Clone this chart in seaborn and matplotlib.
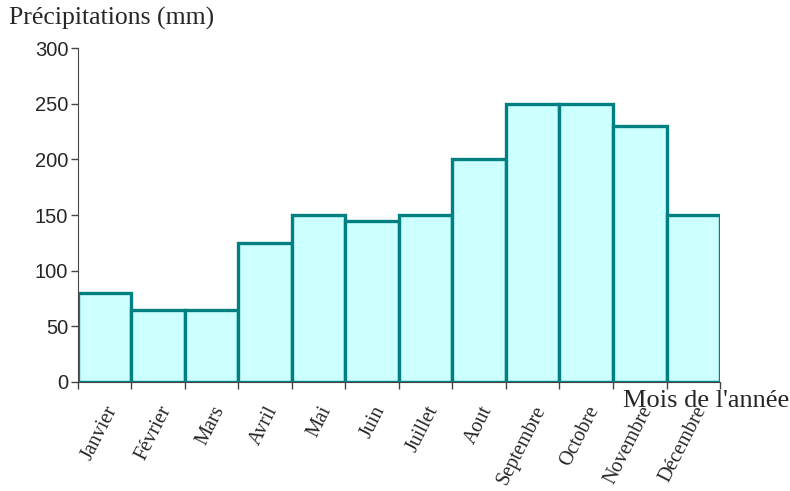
import matplotlib
matplotlib.use("Agg")
import matplotlib.pyplot as plt
import seaborn as sns
import pandas as pd
import numpy as np

# monthly rainfall
mois = ["Janvier", "Février", "Mars", "Avril", "Mai", "Juin", "Juillet",
        "Aout", "Septembre", "Octobre", "Novembre", "Décembre"]
precip = [80, 65, 65, 125, 150, 145, 150, 200, 250, 250, 230, 150]

df = pd.DataFrame({"Mois": mois, "Precipitations": precip})

sns.set_style("white")
plt.rcParams["font.family"] = ["Liberation Serif", "DejaVu Serif"]

fig = plt.figure(figsize=(7.9, 4.91), dpi=100)
ax = fig.add_axes([0.0987, 0.222, 0.8127, 0.68])

sns.barplot(data=df, x="Mois", y="Precipitations", ax=ax, width=1.0,
            color="#CCFFFF", edgecolor="#008080", linewidth=2.4,
            saturation=1)

ax.set_xlim(-0.5, len(mois) - 0.5)
ax.set_ylim(0, 300)
ax.set_yticks(np.arange(0, 301, 50))
for lab in ax.get_yticklabels():
    lab.set_family("Liberation Sans")
    lab.set_fontsize(14.5)
ax.tick_params(axis="y", length=5, width=1, color="#444444", pad=2, direction="out", left=True)

# month labels at bar centres, tick marks at bar edges
ax.set_xticks(range(len(mois)))
ax.set_xticklabels(mois, rotation=63, ha="right", rotation_mode="anchor", fontsize=14.5)
ax.tick_params(axis="x", which="major", length=0, pad=15)
ax.set_xticks(np.arange(-0.5, len(mois), 1.0), minor=True)
ax.tick_params(axis="x", which="minor", length=5, width=1, color="#444444", bottom=True, direction="out")

sns.despine(ax=ax, top=True, right=True)
ax.spines["left"].set_color("#444444")
ax.spines["bottom"].set_color("#444444")
ax.set_xlabel("")
ax.set_ylabel("")

fig.text(0.012, 0.985, "Précipitations (mm)", fontsize=18.5, ha="left", va="top")
fig.text(0.999, 0.171, "Mois de l'année", fontsize=19, ha="right", va="baseline")

fig.savefig("out.png", dpi=100)
